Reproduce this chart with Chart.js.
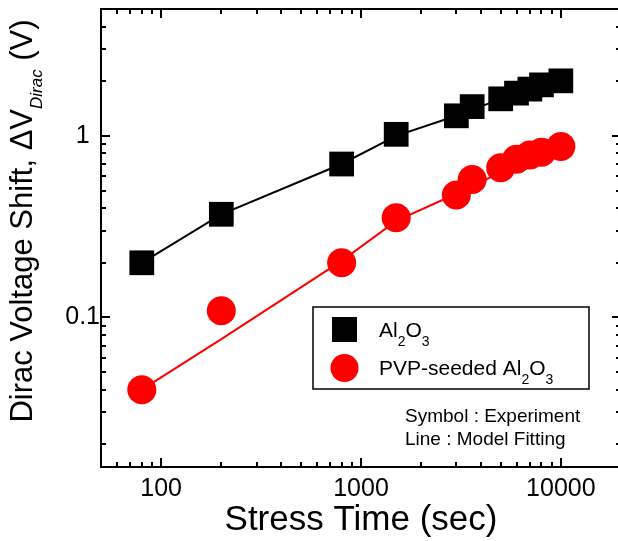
<!DOCTYPE html>
<html lang="en">
<head>
    <meta charset="utf-8">
    <script src="https://cdn.jsdelivr.net/npm/chart.js"></script>
    <title>Dirac Voltage Shift</title>
    <style>
        html, body { margin: 0; background: white; overflow: hidden; }
        #wrap { width: 621px; height: 541px; }
    </style>
</head>
<body>
    <div id="wrap">
        <canvas id="chart" width="621" height="541"></canvas>
    </div>
    <script>
        var FONT = "'Liberation Sans', Arial, sans-serif";

        // measured points (stress time in sec, shift in V)
        var timeSec = [80, 200, 800, 1500, 3000, 3600, 5000, 6000, 7000, 8000, 10000];
        var shiftAl2O3 = [0.20, 0.37, 0.70, 1.02, 1.29, 1.45, 1.60, 1.72, 1.81, 1.91, 2.01];
        var shiftPVP = [0.040, 0.109, 0.200, 0.354, 0.472, 0.576, 0.668, 0.743, 0.785, 0.813, 0.873];

        // model fitting curves
        var fitTime = [80, 200, 800, 1500, 3000, 5000, 10000];
        var fitAl2O3 = [0.20, 0.37, 0.70, 1.00, 1.29, 1.60, 2.01];
        var fitPVP = [0.040, 0.076, 0.205, 0.34, 0.48, 0.63, 0.873];

        var xTicks = [100, 1000, 10000];
        var yTicks = [0.1, 1];

        function pts(xs, ys) {
            return xs.map(function(x, i) { return { x: x, y: ys[i] }; });
        }

        // frame, inside ticks on all four sides, titles, legend and note
        var decorations = {
            id: 'decorations',
            afterDraw: function(chart) {
                var ctx = chart.ctx;
                var a = chart.chartArea;
                var xs = chart.scales.x, ys = chart.scales.y;
                ctx.save();
                ctx.strokeStyle = '#000';
                ctx.lineWidth = 2;
                ctx.strokeRect(a.left, a.top, a.right - a.left, a.bottom - a.top);

                function logTicks(min, max) {
                    var out = [];
                    for (var d = Math.floor(Math.log10(min)); d <= Math.ceil(Math.log10(max)); d++) {
                        for (var m = 1; m <= 9; m++) {
                            var v = m * Math.pow(10, d);
                            if (v > min * 1.001 && v < max * 0.999) out.push({ v: v, major: m === 1 });
                        }
                    }
                    return out;
                }
                ctx.beginPath();
                logTicks(xs.min, xs.max).forEach(function(t) {
                    var px = Math.round(xs.getPixelForValue(t.v));
                    var len = t.major ? 9 : 5;
                    ctx.moveTo(px, a.bottom); ctx.lineTo(px, a.bottom - len);
                    ctx.moveTo(px, a.top); ctx.lineTo(px, a.top + len);
                });
                logTicks(ys.min, ys.max).forEach(function(t) {
                    var py = Math.round(ys.getPixelForValue(t.v));
                    var len = t.major ? 9 : 5;
                    ctx.moveTo(a.left, py); ctx.lineTo(a.left + len, py);
                    ctx.moveTo(a.right, py); ctx.lineTo(a.right - len, py);
                });
                ctx.stroke();

                ctx.fillStyle = '#000';
                // x title
                ctx.font = '35px ' + FONT;
                ctx.textAlign = 'center';
                ctx.textBaseline = 'alphabetic';
                ctx.fillText('Stress Time (sec)', (a.left + a.right) / 2, 530);

                // y title with subscript
                ctx.save();
                ctx.translate(32, 221);
                ctx.rotate(-Math.PI / 2);
                ctx.textAlign = 'left';
                var t1 = 'Dirac Voltage Shift, \u0394V', t2 = 'Dirac', t3 = ' (V)';
                ctx.font = '31px ' + FONT;
                var w1 = ctx.measureText(t1).width, w3 = ctx.measureText(t3).width;
                ctx.font = 'italic 17px ' + FONT;
                var w2 = ctx.measureText(t2).width;
                var s = -(w1 + w2 + w3) / 2;
                ctx.font = '31px ' + FONT;
                ctx.fillText(t1, s, 0);
                ctx.fillText(t3, s + w1 + w2, 0);
                ctx.font = 'italic 17px ' + FONT;
                ctx.fillText(t2, s + w1, 10);
                ctx.restore();

                // legend
                function chem(parts, x, y) {
                    parts.forEach(function(p) {
                        ctx.font = (p.sub ? '14px ' : '21px ') + FONT;
                        ctx.fillText(p.t, x, p.sub ? y + 9 : y);
                        x += ctx.measureText(p.t).width;
                    });
                }
                var lx = 313, ly = 307;
                ctx.lineWidth = 1.5;
                ctx.strokeRect(lx, ly, 276, 82);
                ctx.fillStyle = '#000';
                ctx.fillRect(lx + 19, ly + 10, 25, 25);
                ctx.fillStyle = '#ff0000';
                ctx.beginPath();
                ctx.arc(lx + 31.5, ly + 61, 14, 0, Math.PI * 2);
                ctx.fill();
                ctx.fillStyle = '#000';
                ctx.textAlign = 'left';
                chem([{ t: 'Al' }, { t: '2', sub: true }, { t: 'O' }, { t: '3', sub: true }], lx + 66, ly + 30);
                chem([{ t: 'PVP-seeded Al' }, { t: '2', sub: true }, { t: 'O' }, { t: '3', sub: true }], lx + 66, ly + 68);

                // note
                ctx.font = '19px ' + FONT;
                ctx.fillText('Symbol : Experiment', 405, 422);
                ctx.fillText('Line : Model Fitting', 405, 445);
                ctx.restore();
            }
        };

        var ctx = document.getElementById('chart').getContext('2d');
        var chart = new Chart(ctx, {
            type: 'scatter',
            data: {
                datasets: [
                    {
                        type: 'line',
                        label: 'Al2O3 fit',
                        data: pts(fitTime, fitAl2O3),
                        borderColor: '#000',
                        borderWidth: 2,
                        pointRadius: 0,
                        fill: false,
                        order: 4
                    },
                    {
                        type: 'line',
                        label: 'PVP fit',
                        data: pts(fitTime, fitPVP),
                        borderColor: '#ff0000',
                        borderWidth: 2,
                        pointRadius: 0,
                        fill: false,
                        order: 3
                    },
                    {
                        label: 'Al2O3',
                        data: pts(timeSec, shiftAl2O3),
                        pointStyle: 'rect',
                        pointRadius: 17.5,
                        backgroundColor: '#000',
                        borderWidth: 0,
                        order: 2
                    },
                    {
                        label: 'PVP-seeded Al2O3',
                        data: pts(timeSec, shiftPVP),
                        pointStyle: 'circle',
                        pointRadius: 14.5,
                        backgroundColor: '#ff0000',
                        borderWidth: 0,
                        order: 1
                    }
                ]
            },
            options: {
                responsive: false,
                devicePixelRatio: 1,
                animation: false,
                layout: { autoPadding: false, padding: { top: 9, right: 0, left: 0, bottom: 0 } },
                plugins: {
                    legend: { display: false },
                    tooltip: { enabled: false }
                },
                scales: {
                    x: {
                        type: 'logarithmic',
                        min: 50,
                        max: 20000,
                        grid: { display: false, drawTicks: false },
                        border: { display: false },
                        afterBuildTicks: function(s) {
                            s.ticks = xTicks.map(function(v) { return { value: v }; });
                        },
                        afterFit: function(s) {
                            s.height = 74;
                            s.paddingLeft = 0;
                            s.paddingRight = 0;
                        },
                        ticks: {
                            autoSkip: false,
                            maxRotation: 0,
                            padding: 7,
                            color: '#000',
                            font: { family: FONT, size: 25 },
                            callback: function(v) { return String(v); }
                        }
                    },
                    y: {
                        type: 'logarithmic',
                        min: 0.015,
                        max: 5,
                        grid: { display: false, drawTicks: false },
                        border: { display: false },
                        afterBuildTicks: function(s) {
                            s.ticks = yTicks.map(function(v) { return { value: v }; });
                        },
                        afterFit: function(s) {
                            s.width = 101;
                            s.paddingTop = 0;
                            s.paddingBottom = 0;
                        },
                        ticks: {
                            crossAlign: 'center',
                            padding: 1,
                            color: '#000',
                            font: { family: FONT, size: 25 },
                            callback: function(v) { return String(v); }
                        }
                    }
                }
            },
            plugins: [decorations]
        });
    </script>
</body>
</html>
